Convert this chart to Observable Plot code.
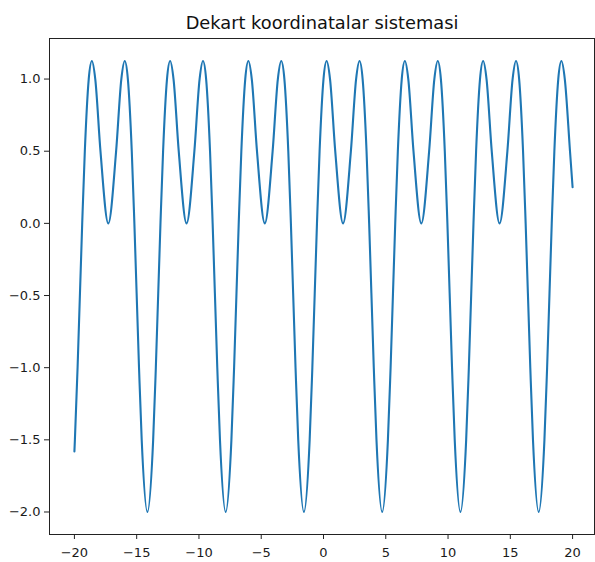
<!DOCTYPE html>
<html>
<head>
<meta charset="utf-8">
<script src="https://cdn.jsdelivr.net/npm/d3@7"></script>
<script src="https://cdn.jsdelivr.net/npm/@observablehq/plot@0.6"></script>
<style>
  html, body { margin: 0; padding: 0; background: #fff; }
  #chart svg { display: block; }
</style>
</head>
<body>
<div id="chart"></div>
<script>
// y = sin(x) + cos(2x) sampled at its extrema and level crossings, -20 … 20
const xs = [
  -20, -19.961, -19.746, -19.374, -19.164, -18.850, -18.597, -18.326, -17.908, -17.279, -16.651, -16.232, -15.961, -15.708, -15.394, -15.185, -14.812, -14.597, -14.138,
  -13.677, -13.462, -13.090, -12.880, -12.566, -12.313, -12.042, -11.624, -10.995, -10.367, -9.948, -9.677, -9.424, -9.110, -8.901, -8.528, -8.313, -7.854,
  -7.394, -7.179, -6.807, -6.597, -6.283, -6.030, -5.759, -5.341, -4.712, -4.084, -3.665, -3.394, -3.141, -2.827, -2.618, -2.245, -2.030, -1.571,
  -1.111, -0.896, -0.524, -0.314, 0, 0.253, 0.524, 0.942, 1.571, 2.199, 2.618, 2.889, 3.142, 3.456, 3.665, 4.038, 4.253, 4.712,
  5.172, 5.387, 5.759, 5.969, 6.283, 6.536, 6.807, 7.225, 7.854, 8.482, 8.901, 9.172, 9.425, 9.739, 9.948, 10.321, 10.536, 10.995,
  11.455, 11.670, 12.042, 12.252, 12.566, 12.819, 13.090, 13.508, 14.137, 14.765, 15.184, 15.455, 15.708, 16.022, 16.231, 16.604, 16.819, 17.278,
  17.739, 17.954, 18.326, 18.536, 18.850, 19.103, 19.374, 19.792, 20
];
const ys = [
  -1.58, -1.5, -1, 0, 0.5, 1, 1.125, 1, 0.5, 0, 0.5, 1, 1.125, 1, 0.5, 0, -1, -1.5, -2,
  -1.5, -1, 0, 0.5, 1, 1.125, 1, 0.5, 0, 0.5, 1, 1.125, 1, 0.5, 0, -1, -1.5, -2,
  -1.5, -1, 0, 0.5, 1, 1.125, 1, 0.5, 0, 0.5, 1, 1.125, 1, 0.5, 0, -1, -1.5, -2,
  -1.5, -1, 0, 0.5, 1, 1.125, 1, 0.5, 0, 0.5, 1, 1.125, 1, 0.5, 0, -1, -1.5, -2,
  -1.5, -1, 0, 0.5, 1, 1.125, 1, 0.5, 0, 0.5, 1, 1.125, 1, 0.5, 0, -1, -1.5, -2,
  -1.5, -1, 0, 0.5, 1, 1.125, 1, 0.5, 0, 0.5, 1, 1.125, 1, 0.5, 0, -1, -1.5, -2,
  -1.5, -1, 0, 0.5, 1, 1.125, 1, 0.5, 0.25
];
const xTicks = [-20, -15, -10, -5, 0, 5, 10, 15, 20];
const yTicks = [-2.0, -1.5, -1.0, -0.5, 0.0, 0.5, 1.0];
const title = "Dekart koordinatalar sistemasi";

const points = xs.map((x, i) => ({x, y: ys[i]}));
const fmtX = d3.format("");
const fmtY = d3.format(".1f");

const chart = Plot.plot({
  width: 595,
  height: 562,
  marginTop: 38,
  marginBottom: 28,
  marginLeft: 49,
  marginRight: 1,
  style: {fontFamily: "'DejaVu Sans', sans-serif", background: "#fff"},
  x: {domain: [-22, 22], range: [49, 597]},
  y: {domain: [-2.156, 1.281]},
  marks: [
    Plot.frame({stroke: "#222", strokeWidth: 1}),
    // tick marks only; the labels are drawn below at a larger size
    Plot.axisX({ticks: xTicks, tickSize: 5, tickFormat: () => "", stroke: "#222", label: null}),
    Plot.axisY({ticks: yTicks, tickSize: 5, tickFormat: () => "", stroke: "#222", label: null}),
    Plot.text(xTicks, {x: d => d, frameAnchor: "bottom", lineAnchor: "top", dy: 13, text: fmtX, fontSize: 13, fill: "#1a1a1a"}),
    Plot.text(yTicks, {y: d => d, frameAnchor: "left", textAnchor: "end", dx: -9, text: fmtY, fontSize: 13, fill: "#1a1a1a"}),
    Plot.line(points, {x: "x", y: "y", stroke: "#1f77b4", strokeWidth: 2.1, curve: "monotone-x"}),
    Plot.text([title], {frameAnchor: "top", lineAnchor: "bottom", dy: -10, fontSize: 17.8, fill: "#111"})
  ]
});
document.getElementById("chart").append(chart);
</script>
</body>
</html>
